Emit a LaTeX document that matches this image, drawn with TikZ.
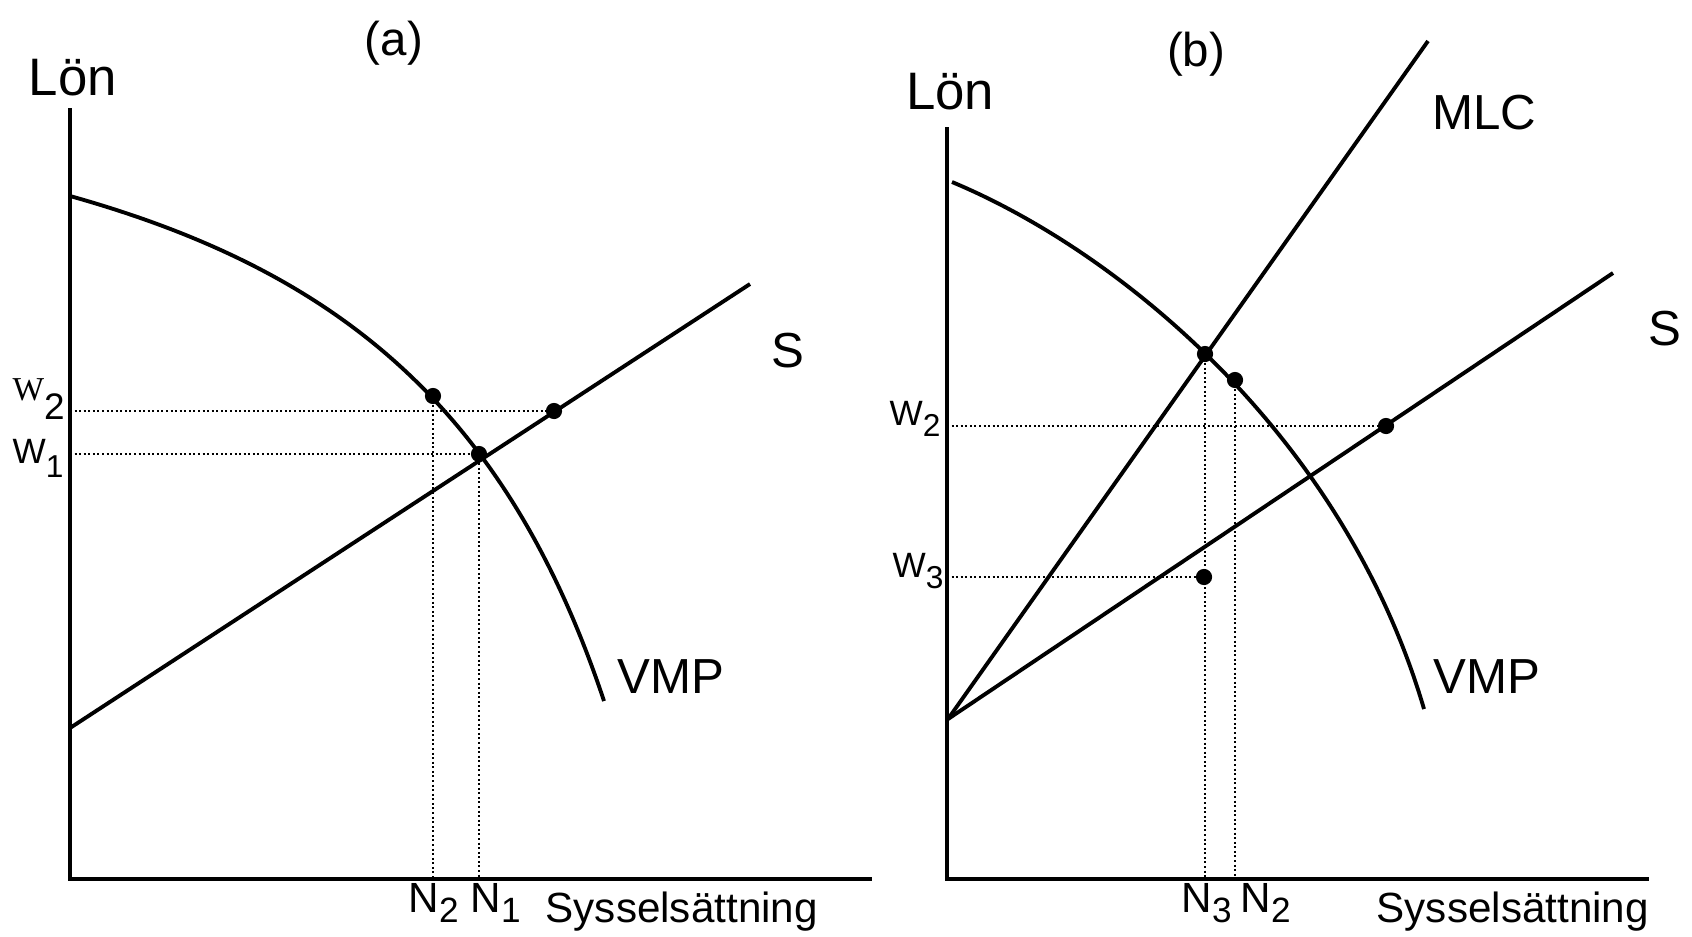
\documentclass[tikz,border=0pt]{standalone}
\usepackage{fontspec}
\setmainfont{Liberation Sans}
\newfontfamily\serifw{Liberation Serif}
\newcommand{\lowidx}[3][3pt]{\raisebox{-#1}{\fontsize{#2}{#2}\selectfont #3}}
\begin{document}
\begin{tikzpicture}[x=0.01cm,y=-0.01cm,every node/.style={inner sep=0pt},
  axis/.style={line width=1.1pt},
  curve/.style={line width=1.1pt},
  guide/.style={line width=0.55pt,dash pattern=on 0.55pt off 0.75pt},
  dot/.style={circle,fill,minimum size=4.6pt}]
\useasboundingbox (0,0) rectangle (1692,936);
\coordinate (aO) at (70,879);
\coordinate (bO) at (947,879);
\draw[axis] (70,108) -- (aO) -- (872,879);
\draw[curve] (70,196) .. controls (330,269) and (504,401) .. (604,701);
\draw[curve] (70,728) -- (750,284);
\node[dot] (aV) at (433,396) {};
\node[dot] (aS) at (554,411) {};
\node[dot] (aE) at (479,454) {};
\draw[guide] (aO |- aS) -- (aS.center);
\draw[guide] (aO |- aE) -- (aE.center);
\draw[guide] (aV.center) -- (aV |- aO);
\draw[guide] (aE.center) -- (aE |- aO);
\node[anchor=base] (lonA) at (73,95) {\fontsize{15}{18}\selectfont Lön};
\node (titleA) at (394,43) {\fontsize{13.5}{16}\selectfont (a)};
\node (supA) at (788,351) {\fontsize{14}{17}\selectfont S};
\node (vmpA) at (671,677) {\fontsize{14}{17}\selectfont VMP};
\node[anchor=base west] (w2A) at (12,400) {\serifw\fontsize{9.5}{11}\selectfont W\lowidx[5.5pt]{10.5}{\rmfamily 2}};
\node[anchor=base west] (w1A) at (12,463) {\fontsize{10}{12}\selectfont W\lowidx[4pt]{9}{1}};
\node[anchor=base west] (n2A) at (408,912) {\fontsize{12}{14}\selectfont N\lowidx{10}{2}};
\node[anchor=base west] (n1A) at (470,912) {\fontsize{12}{14}\selectfont N\lowidx{10}{1}};
\node[anchor=base west] (empA) at (545,922) {\fontsize{12}{14}\selectfont Sysselsättning};
\draw[axis] (947,127) -- (bO) -- (1649,879);
\draw[curve] (952,182) .. controls (1122,253) and (1344,437) .. (1424,709);
\draw[curve] (948,719) -- (1428,41);
\draw[curve] (948,719) -- (1613,273);
\node[dot] (bM) at (1205,354) {};
\node[dot] (bV) at (1235,380) {};
\node[dot] (bS) at (1386,426) {};
\node[dot] (bW) at (1204,577) {};
\draw[guide] (bO |- bS) -- (bS.center);
\draw[guide] (bO |- bW) -- (bW.center);
\draw[guide] (bM.center) -- (bM |- bO);
\draw[guide] (bV.center) -- (bV |- bO);
\node[anchor=base] (lonB) at (950,109) {\fontsize{15}{18}\selectfont Lön};
\node (titleB) at (1196,54) {\fontsize{13.5}{16}\selectfont (b)};
\node (mlcB) at (1484,113) {\fontsize{14}{17}\selectfont MLC};
\node (supB) at (1665,329) {\fontsize{14}{17}\selectfont S};
\node (vmpB) at (1487,677) {\fontsize{14}{17}\selectfont VMP};
\node[anchor=base west] (w2B) at (889,425) {\fontsize{10}{12}\selectfont W\lowidx[3.4pt]{9}{2}};
\node[anchor=base west] (w3B) at (892,577) {\fontsize{10}{12}\selectfont W\lowidx[3.4pt]{9}{3}};
\node[anchor=base west] (n3B) at (1181,912) {\fontsize{12}{14}\selectfont N\lowidx{10}{3}};
\node[anchor=base west] (n2B) at (1240,912) {\fontsize{12}{14}\selectfont N\lowidx{10}{2}};
\node[anchor=base west] (empB) at (1376,922) {\fontsize{12}{14}\selectfont Sysselsättning};
\end{tikzpicture}
\end{document}
